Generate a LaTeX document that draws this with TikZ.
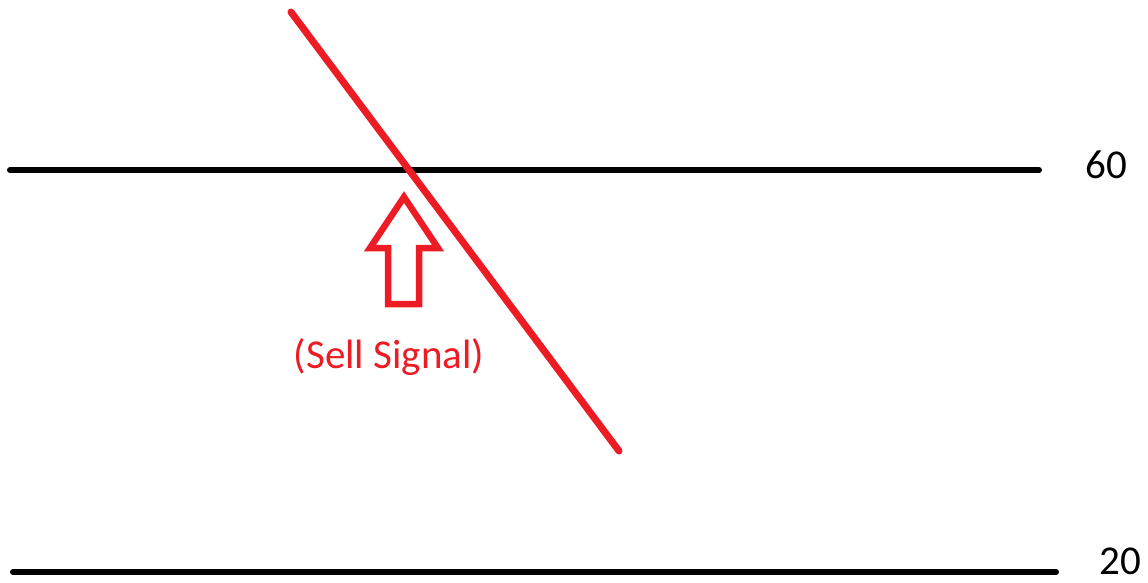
\documentclass[tikz,border=0pt]{standalone}
\usepackage{fontspec}
\setmainfont{Carlito}
\definecolor{pred}{RGB}{237,28,36}
\begin{document}
\begin{tikzpicture}[x=1pt,y=-1pt,
  level/.style={line width=6pt,line cap=round,black},
  lbl/.style={font=\fontsize{41}{44}\selectfont,inner sep=0pt},
  redline/.style={line width=7pt,line cap=round,pred},
  arr/.style={line width=6.5pt,pred,line join=miter}]
\useasboundingbox (0,0) rectangle (1148,582);
\coordinate (a1) at (10,170);
\coordinate (a2) at (1039,170);
\coordinate (b1) at (13,572);
\coordinate (b2) at (1056,572);
\draw[level] (a1) -- (a2);
\draw[level] (b1) -- (b2);
\node[lbl,anchor=base,text depth=0pt] (l60) at (1106,178) {60};
\node[lbl,anchor=base,text depth=0pt] (l20) at (1120,574) {20};
\coordinate (r1) at (291,12);
\coordinate (r2) at (619,451);
\draw[redline] (r1) -- (r2);
\draw[arr] (404,197) -- (438,248) -- (419,248) -- (419,304) -- (388,304) -- (388,248) -- (370,248) -- cycle;
\node[lbl,text=pred] (sig) at (389,357) {(Sell Signal)};
\end{tikzpicture}
\end{document}
